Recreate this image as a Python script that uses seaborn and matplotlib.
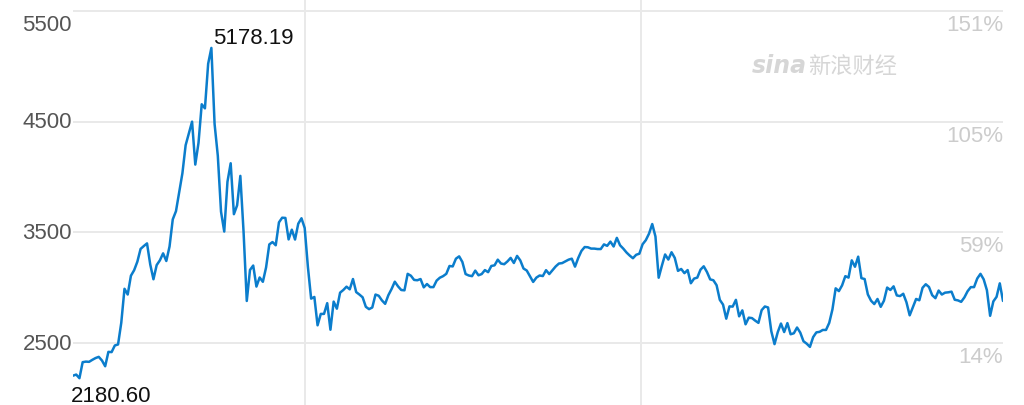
import numpy as np
import pandas as pd
import matplotlib
matplotlib.use("Agg")
import matplotlib.pyplot as plt
import matplotlib.transforms as mtransforms
import seaborn as sns

# ---- data: weekly (Friday) index levels ----
vals_2014 = [2205, 2215, 2182, 2327, 2332, 2330, 2348, 2364, 2375, 2342,
             2290, 2420, 2418, 2478, 2487, 2683, 2990, 2938, 3108, 3158]
vals_2015 = [3235, 3350, 3376, 3400, 3210, 3076, 3204, 3247, 3310, 3241,
             3372, 3617, 3691, 3863, 4034, 4287, 4394, 4500, 4112, 4308,
             4657, 4620, 5023, 5166, 4478, 4192, 3686, 3507, 3957, 4124,
             3664, 3744, 4010, 3507, 2880, 3160, 3200, 3010, 3092, 3053,
             3183, 3391, 3412, 3383, 3590, 3632, 3630, 3436, 3524, 3435,
             3578, 3627]
vals_2016 = [3539, 3186, 2901, 2916, 2660, 2763, 2763, 2860, 2620, 2874,
             2810, 2955, 2979, 3009, 2985, 3078, 2960, 2938, 2913, 2827,
             2806, 2821, 2938, 2927, 2885, 2854, 2932, 2988, 3054, 3012,
             2979, 2976, 3125, 3108, 3070, 3067, 3078, 3003, 3033, 3005,
             3005, 3064, 3090, 3104, 3125, 3196, 3192, 3262, 3283, 3232,
             3123, 3110, 3104]
vals_2017 = [3154, 3112, 3123, 3159, 3140, 3196, 3202, 3253, 3218, 3212,
             3237, 3269, 3223, 3287, 3246, 3173, 3155, 3103, 3052, 3091,
             3110, 3105, 3158, 3123, 3158, 3192, 3218, 3222, 3238, 3253,
             3262, 3190, 3268, 3332, 3367, 3365, 3353, 3353, 3349, 3349,
             3391, 3378, 3416, 3372, 3450, 3383, 3353, 3318, 3290, 3266,
             3297, 3307]
vals_2018 = [3392, 3429, 3488, 3575, 3462, 3090, 3199, 3300, 3254, 3320,
             3269, 3152, 3169, 3131, 3159, 3040, 3082, 3091, 3163, 3193,
             3142, 3075, 3067, 3022, 2890, 2847, 2720, 2831, 2829, 2890,
             2741, 2795, 2669, 2729, 2725, 2702, 2682, 2797, 2830, 2821,
             2606, 2490, 2598, 2676, 2599, 2680, 2579, 2588, 2640, 2594,
             2516, 2494]
vals_2019 = [2465, 2553, 2596, 2601, 2618, 2618, 2682, 2804, 2994, 2969,
             3021, 3104, 3091, 3247, 3189, 3280, 3086, 3078, 2939, 2882,
             2852, 2898, 2827, 2882, 3001, 2979, 3012, 2930, 2924, 2945,
             2868, 2750, 2824, 2898, 2886, 2999, 3031, 3006, 2932, 2905,
             2974, 2938, 2955, 2958, 2964, 2891, 2885, 2872, 2912, 2968,
             3005, 3005]
vals_2020 = [3083, 3125, 3075, 2977, 2746, 2876, 2917, 3039, 2880]

year_starts = ["2014-08-15", "2015-01-02", "2016-01-01", "2017-01-06",
               "2018-01-05", "2019-01-04", "2020-01-03"]
year_vals = [vals_2014, vals_2015, vals_2016, vals_2017, vals_2018,
             vals_2019, vals_2020]

y_ticks = [2500, 3500, 4500, 5500]
y_tick_labels = ["2500", "3500", "4500", "5500"]
right_labels = ["14%", "59%", "105%", "151%"]
max_label = 5178.19
min_label = 2180.60
grid_dates = ["2016-01-01", "2018-01-01"]

# ---- build frame ----
frames = []
for start, vals in zip(year_starts, year_vals):
    d = pd.date_range(start, periods=len(vals), freq="W-FRI")
    frames.append(pd.DataFrame({"date": d, "close": vals}))
df = pd.concat(frames, ignore_index=True)

sns.set_theme(style="white")
plt.rcParams["font.family"] = ["Liberation Sans", "DejaVu Sans"]

W, H = 1024, 406
FS = 16
fig = plt.figure(figsize=(W / 100, H / 100), dpi=100)
ax = fig.add_axes([73 / W, 0, 930 / W, 1])

line_color = "#0b7dcc"
sns.lineplot(data=df, x="date", y="close", ax=ax, color=line_color,
             linewidth=1.8, zorder=3)

ax.set_xlim(df["date"].iloc[0], df["date"].iloc[-1])
ax.set_ylim(1940, 5608)

# grid
grid_color = "#e9e9e9"
for yv in y_ticks:
    ax.axhline(yv, color=grid_color, linewidth=1.4, zorder=1)
for gd in grid_dates:
    ax.axvline(pd.Timestamp(gd), color=grid_color, linewidth=1.4, zorder=1)

ax.set_xticks([])
ax.set_yticks([])
ax.set_xlabel("")
ax.set_ylabel("")
for s in ax.spines.values():
    s.set_visible(False)

blend = mtransforms.blended_transform_factory(ax.transAxes, ax.transData)

# left labels
for yv, lab in zip(y_ticks, y_tick_labels):
    if yv == max(y_ticks):
        tr = mtransforms.offset_copy(blend, fig=fig, x=-1, y=-3, units="dots")
        ax.text(0, yv, lab, transform=tr, ha="right", va="top",
                fontsize=FS, color="#555555")
    else:
        tr = mtransforms.offset_copy(blend, fig=fig, x=-1, y=0, units="dots")
        ax.text(0, yv, lab, transform=tr, ha="right", va="center",
                fontsize=FS, color="#555555")

# right labels
for yv, lab in zip(y_ticks, right_labels):
    tr = mtransforms.offset_copy(blend, fig=fig, x=0, y=-3, units="dots")
    ax.text(1, yv, lab, transform=tr, ha="right", va="top",
            fontsize=FS, color="#cccccc")

# max / min annotations
imax = df["close"].idxmax()
imin = df["close"].idxmin()
ax.annotate(f"{max_label:.2f}", xy=(df["date"][imax], df["close"][imax]),
            xytext=(1.5, 3.5), textcoords="offset points", ha="left",
            va="baseline", fontsize=FS, color="#111111")
ax.annotate(f"{min_label:.2f}", xy=(df["date"][imin], df["close"][imin]),
            xytext=(-6, -5), textcoords="offset points", ha="left",
            va="top", fontsize=FS, color="#111111", annotation_clip=False)

# watermark
fig.text(752 / W, 1 - 66 / H, "sina", fontsize=17, fontweight="bold",
         fontstyle="italic", color="#d6d6d6", ha="left", va="center",
         family=["DejaVu Sans"])
fig.text(808 / W, 1 - 66 / H, "新浪财经", fontsize=16, color="#d6d6d6",
         ha="left", va="center", family=["Noto Sans CJK SC", "DejaVu Sans"])

fig.savefig("out.png", dpi=100, facecolor="white")
